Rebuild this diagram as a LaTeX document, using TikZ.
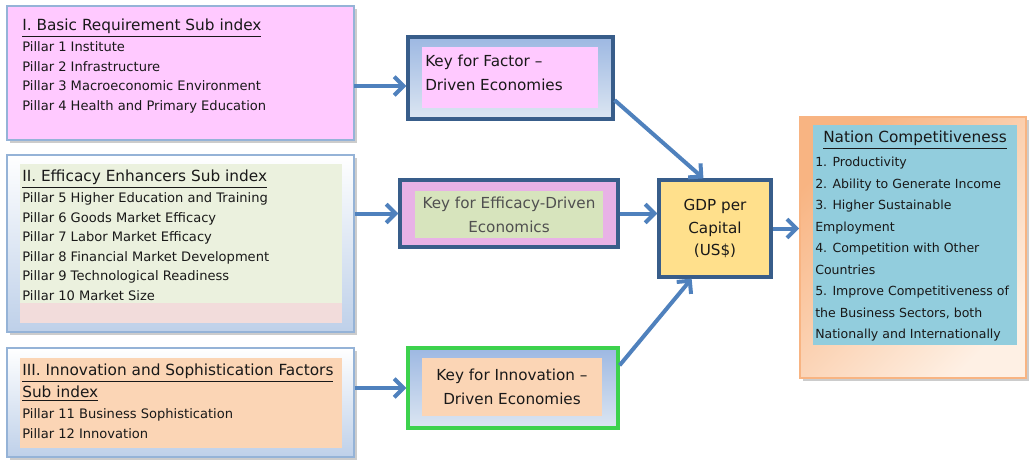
\documentclass[tikz,border=0pt]{standalone}
\usepackage{fontspec}
\setmainfont{DejaVu Sans}
\usetikzlibrary{arrows.meta,shadows}

\definecolor{boxline}{RGB}{149,179,215}
\definecolor{keyline}{RGB}{56,93,138}
\definecolor{innovline}{RGB}{61,210,77}
\definecolor{flowblue}{RGB}{79,129,189}
\definecolor{pinkfill}{RGB}{255,201,255}
\definecolor{sagefill}{RGB}{235,241,222}
\definecolor{rosefill}{RGB}{242,220,219}
\definecolor{peachfill}{RGB}{251,213,181}
\definecolor{paleblue}{RGB}{190,208,233}
\definecolor{keytop}{RGB}{157,184,226}
\definecolor{keybottom}{RGB}{220,230,242}
\definecolor{violetfill}{RGB}{232,178,230}
\definecolor{effgreen}{RGB}{215,228,189}
\definecolor{effgrey}{RGB}{80,80,80}
\definecolor{gdpfill}{RGB}{255,224,140}
\definecolor{tealfill}{RGB}{146,205,221}
\definecolor{nationdark}{RGB}{248,180,130}
\definecolor{nationlight}{RGB}{254,240,228}

\newcommand{\subhead}[1]{{\fontsize{11.5}{15}\selectfont\underline{#1}}}

\begin{document}
\begin{tikzpicture}[x=0.75pt,y=0.75pt,yscale=-1,xscale=1,
  subindex/.style={draw=boxline,line width=1.2pt,drop shadow={shadow xshift=2pt,shadow yshift=-2pt,fill=black!40}},
  keybox/.style={draw=keyline,line width=2.4pt},
  panel/.style={inner sep=0pt},
  listtext/.style={anchor=north west,align=left,inner sep=0pt,text=black!90,font=\fontsize{9.8}{14.6}\selectfont},
  keytext/.style={align=center,text=black!90,font=\fontsize{11.4}{18}\selectfont},
  flow/.style={draw=flowblue,line width=3pt,-{Straight Barb[length=7pt,width=14pt]}}
]
\useasboundingbox (0,0) rectangle (1029,460);

% sub indexes
\node[subindex,fill=pinkfill,minimum width=260.25pt,minimum height=100.5pt] (basic) at (180.5,73) {};
\node[listtext] (basictxt) at (22,19) {\subhead{I. Basic Requirement Sub index}\\[1pt]
  Pillar 1 Institute\\ Pillar 2 Infrastructure\\ Pillar 3 Macroeconomic Environment\\ Pillar 4 Health and Primary Education};

\node[subindex,top color=white,bottom color=paleblue,minimum width=260.25pt,minimum height=132.75pt] (efficacy) at (180.5,243.5) {};
\node[panel,fill=sagefill,minimum width=241.5pt,minimum height=104.25pt] (efficacyin) at (181,233.5) {};
\node[panel,fill=rosefill,minimum width=241.5pt,minimum height=15pt] (efficacylow) at (181,313) {};
\node[listtext] (efficacytxt) at (22,170) {\subhead{II. Efficacy Enhancers Sub index}\\[1pt]
  Pillar 5 Higher Education and Training\\ Pillar 6 Goods Market Efficacy\\ Pillar 7 Labor Market Efficacy\\
  Pillar 8 Financial Market Development\\ Pillar 9 Technological Readiness\\ Pillar 10 Market Size};

\node[subindex,top color=white,bottom color=paleblue,minimum width=260.25pt,minimum height=81.75pt] (innov) at (180.5,402.5) {};
\node[panel,fill=peachfill,minimum width=241.5pt,minimum height=67.5pt] (innovin) at (181,403) {};
\node[listtext,font=\fontsize{9.8}{15}\selectfont] (innovtxt) at (22,364) {\subhead{III. Innovation and Sophistication Factors}\\[1.5pt]
  \subhead{Sub index}\\[0.75pt] Pillar 11 Business Sophistication\\ Pillar 12 Innovation};

% keys
\node[keybox,top color=keytop,bottom color=keybottom,minimum width=153.75pt,minimum height=61.5pt] (factorkey) at (510.5,78) {};
\node[panel,fill=pinkfill,minimum width=132pt,minimum height=45.75pt] (factorin) at (510,77.5) {};
\node[keytext,align=left,anchor=west,inner sep=0pt] (factortxt) at (425,73) {Key for Factor –\\Driven Economies};

\node[keybox,fill=violetfill,minimum width=163.5pt,minimum height=50.25pt] (efficacykey) at (509,213.5) {};
\node[panel,keytext,fill=effgreen,text=effgrey,minimum width=141pt,minimum height=35.25pt] (efficacykeyin) at (509,214.5) {Key for Efficacy-Driven\\Economics};

\node[keybox,draw=innovline,top color=keytop,bottom color=keybottom,minimum width=157.5pt,minimum height=60pt] (innovkey) at (513,388) {};
\node[panel,keytext,fill=peachfill,minimum width=135pt,minimum height=43.5pt] (innovkeyin) at (512,387) {Key for Innovation –\\Driven Economies};

% gdp and nation
\node[keybox,keytext,fill=gdpfill,font=\fontsize{11.4}{17}\selectfont,minimum width=84pt,minimum height=72.75pt] (gdp) at (715,228.5) {GDP per\\Capital\\(US\$)};

\node[subindex,draw=nationdark,top color=nationdark,bottom color=nationlight,shading angle=45,minimum width=169.5pt,minimum height=195.75pt] (nation) at (913,247.5) {};
\node[panel,fill=tealfill,minimum width=153pt,minimum height=165pt] (nationin) at (915,235) {};
\node[font=\fontsize{11.5}{15}\selectfont,text=black!90] (nationhead) at (915,140) {\underline{Nation Competitiveness}};
\node[listtext,font=\fontsize{9.4}{16.1}\selectfont] (nationtxt) at (815,157) {1. Productivity\\ 2. Ability to Generate Income\\
  3. Higher Sustainable\\ Employment\\ 4. Competition with Other\\ Countries\\ 5. Improve Competitiveness of\\
  the Business Sectors, both\\ Nationally and Internationally};

% connectors
\coordinate (basicout) at (354,86);
\draw[flow] (basicout) -- (basicout -| factorkey.west);
\draw[flow] (efficacy.east |- efficacykey.west) -- (efficacykey.west);
\draw[flow] (innov.east |- innovkey.west) -- (innovkey.west);
\draw[flow] (factorkey.-12) -- (gdp.103);
\draw[flow] (efficacykey.east) -- (efficacykey.east -| gdp.west);
\draw[flow] (innovkey.12) -- (gdp.-115);
\draw[flow] (gdp.east) -- (gdp.east -| nation.west);
\end{tikzpicture}
\end{document}
